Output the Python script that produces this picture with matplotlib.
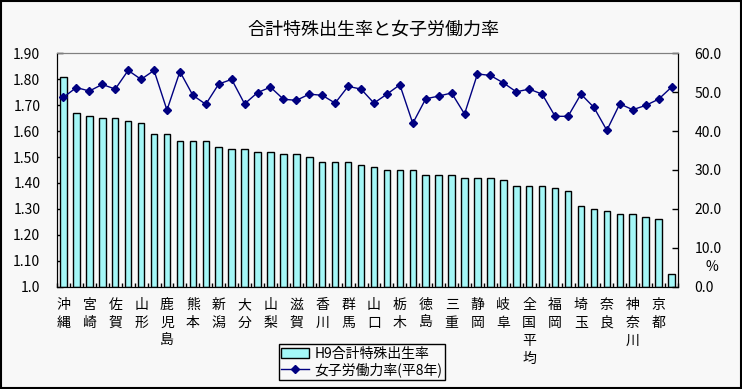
import matplotlib
matplotlib.use("Agg")
import matplotlib.pyplot as plt
from matplotlib.ticker import FixedLocator
import numpy as np

plt.rcParams['font.family'] = ['Noto Sans CJK JP', 'DejaVu Sans']

# 48 categories (sorted by H9 total fertility rate); only every other name is labelled
labels = ['沖縄', '', '宮崎', '', '佐賀', '', '山形', '', '鹿児島', '', '熊本', '',
          '新潟', '', '大分', '', '山梨', '', '滋賀', '', '香川', '', '群馬', '',
          '山口', '', '栃木', '', '徳島', '', '三重', '', '静岡', '', '岐阜', '',
          '全国平均', '', '福岡', '', '埼玉', '', '奈良', '', '神奈川', '', '京都', '']

tfr = [1.81, 1.67, 1.66, 1.65, 1.65, 1.64, 1.63, 1.59, 1.59, 1.56, 1.56, 1.56,
       1.54, 1.53, 1.53, 1.52, 1.52, 1.51, 1.51, 1.50, 1.48, 1.48, 1.48, 1.47,
       1.46, 1.45, 1.45, 1.45, 1.43, 1.43, 1.43, 1.42, 1.42, 1.42, 1.41, 1.39,
       1.39, 1.39, 1.38, 1.37, 1.31, 1.30, 1.29, 1.28, 1.28, 1.27, 1.26, 1.05]

flfp = [48.7, 51.2, 50.3, 52.0, 50.8, 55.6, 53.3, 55.6, 45.4, 55.3, 49.2, 46.9,
        52.1, 53.3, 47.0, 49.9, 51.3, 48.2, 47.9, 49.5, 49.2, 47.2, 51.5, 50.8,
        47.2, 49.5, 51.9, 42.0, 48.3, 49.0, 49.8, 44.4, 54.7, 54.3, 52.4, 50.1,
        50.8, 49.5, 43.8, 43.8, 49.5, 46.1, 40.2, 47.0, 45.5, 46.6, 48.2, 51.3]

left_ticks = [1.0, 1.1, 1.2, 1.3, 1.4, 1.5, 1.6, 1.7, 1.8, 1.9]
left_ticklabels = ['1.0', '1.10', '1.20', '1.30', '1.40', '1.50', '1.60', '1.70', '1.80', '1.90']
right_ticks = [0, 10, 20, 30, 40, 50, 60]
right_ticklabels = ['0.0', '10.0', '20.0', '30.0', '40.0', '50.0', '60.0']

bg = '#f8f8f8'
fig = plt.figure(figsize=(7.42, 3.89), dpi=100, facecolor=bg)
ax = fig.add_axes([57/742, 1-286.7/389, (678-57)/742, (286.7-53.3)/389])
ax.set_facecolor(bg)
x = np.arange(len(tfr))
bars = ax.bar(x, [v - 1.0 for v in tfr], bottom=1.0, width=0.5, color='#a4f7f7',
              edgecolor='black', linewidth=1.0, label='H9合計特殊出生率', zorder=2)
ax.set_xlim(-0.5, len(tfr) - 0.5)
ax.set_ylim(1.0, 1.9)
ax.set_yticks(left_ticks)
ax.set_yticklabels(left_ticklabels, fontsize=10)
ax.tick_params(axis='y', direction='in', length=4, width=1, pad=12)
ax.set_xticks(x)
ax.set_xticklabels(['\n'.join(l) for l in labels], fontsize=10, linespacing=1.38, va='top')
ax.tick_params(axis='x', which='major', length=0, pad=8)
ax.xaxis.set_minor_locator(FixedLocator(np.arange(-0.5, len(tfr), 1.0)))
ax.tick_params(axis='x', which='minor', direction='in', length=3, width=1)
for s in ['left', 'bottom', 'right']:
    ax.spines[s].set_color('black')
ax.spines['top'].set_color('#808080')

ax2 = ax.twinx()
line, = ax2.plot(x, flfp, color='#000080', marker='D', markersize=4.5, linewidth=1,
                 label='女子労働力率(平8年)', zorder=3)
ax2.set_ylim(0, 60)
ax2.set_yticks(right_ticks)
ax2.set_yticklabels(right_ticklabels, fontsize=10)
ax2.tick_params(axis='y', direction='in', length=4, width=1, pad=12)
ax2.spines['top'].set_color('#808080')
ax2.spines['right'].set_color('black')

fig.text(712/742, 1-267/389, '%', fontsize=10, ha='center', va='center')
fig.text(373/742, 1-30/389, '合計特殊出生率と女子労働力率', fontsize=13, ha='center', va='center')

leg = fig.legend([bars, line], ['H9合計特殊出生率', '女子労働力率(平8年)'],
                 loc='center', bbox_to_anchor=(362/742, 1-362/389), fontsize=10,
                 frameon=True, fancybox=False, edgecolor='black', facecolor=bg,
                 framealpha=1, borderpad=0.2, handlelength=2.0, handletextpad=0.4,
                 labelspacing=0.1, borderaxespad=0)
leg.get_frame().set_linewidth(1.0)

# outer border
fig.patches.append(plt.Rectangle((0.001, 0.002), 0.997, 0.996, transform=fig.transFigure,
                                 fill=False, edgecolor='black', linewidth=1.5))

fig.savefig('out.png', dpi=100, facecolor=bg)
